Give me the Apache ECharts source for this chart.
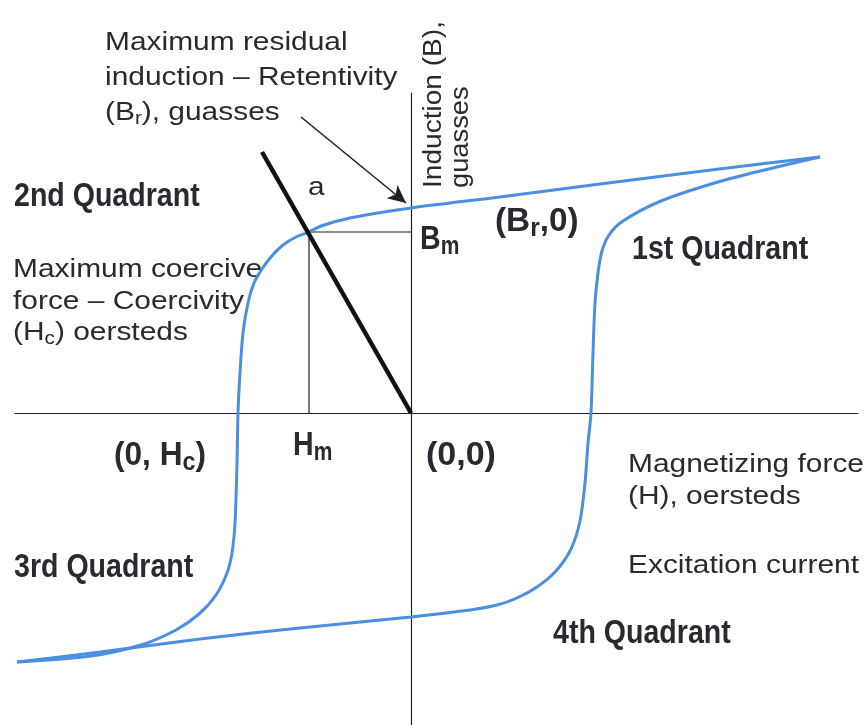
<!DOCTYPE html>
<html>
<head>
<meta charset="utf-8">
<script src="https://cdn.jsdelivr.net/npm/echarts@6/dist/echarts.min.js"></script>
<style>
html,body{margin:0;padding:0;background:#fff;}
#main{width:867px;height:725px;}
</style>
</head>
<body>
<div id="main"></div>
<script>
// H (oersteds, arbitrary units) / B (gauss, arbitrary units)
var upperBranch = [[409,256],[300,243],[189,229],[89,216],[0,205],[-61,195],[-90,187],[-102,181],[-115,176],
    [-128,168],[-140,156],[-149,144],[-157,130],[-163,110],[-168,80],[-171,40],[-173,0],[-174,-50],
    [-176,-110],[-179,-140],[-184,-160],[-195,-182],[-212,-201],[-235,-217],[-270,-232],[-320,-243],[-394,-249]];
var lowerBranch = [[-394,-249],[-311,-239],[-211,-226],[-111,-215],[0,-204],[59,-197],[86,-192],[106,-185],
    [126,-174],[145,-158],[160,-136],[169,-108],[174,-70],[177,-30],[180,0],[182,60],[184,110],[187,140],
    [191,162],[198,178],[212,192],[250,212],[307,231],[362,245],[409,256]];
var loadLine = [[0,0],[-149,261]];
var workPoint = [[-102,0],[-102,181],[0,181]];
var arrowFrom = [-110,296];
var arrowTo = [-5,210];

var xMin = -396, xMax = 447, yMin = -312, yMax = 320;

var ink = '#2b2930';
var blue = '#4a8fe0';

function note(x, y, text, bold, rich, sx){
    return {
        type:'text', x:x, y:y, scaleX: sx || (bold ? 0.84 : 1.15),
        style:{
            text:text, fill:ink, align:'left', verticalAlign:'middle',
            fontFamily:'Liberation Sans', fontSize: bold ? 34 : 26,
            fontWeight: bold ? 'bold' : 'normal', lineHeight: bold ? 40 : 30,
            rich: rich || {}
        }
    };
}
var subR = {sub:{fontFamily:'Liberation Sans', fontSize:18, fill:ink, lineHeight:17, verticalAlign:'bottom'}};
var subB = {sub:{fontFamily:'Liberation Sans', fontSize:25, fontWeight:'bold', fill:ink, lineHeight:24, verticalAlign:'bottom'}};

var texts = [
    note(105, 43, 'Maximum residual'),
    note(105, 78, 'induction – Retentivity'),
    note(105, 113, '(B{sub|r}), guasses', false, subR),
    note(308, 188, 'a'),
    note(13, 270, 'Maximum coercive'),
    note(13, 302, 'force – Coercivity'),
    note(13, 333, '(H{sub|c}) oersteds', false, subR),
    note(628, 465, 'Magnetizing force'),
    note(628, 497, '(H), oersteds'),
    note(628, 566, 'Excitation current'),
    note(14, 197, '2nd Quadrant', true),
    note(632, 250, '1st Quadrant', true),
    note(14, 568, '3rd Quadrant', true),
    note(553, 634, '4th Quadrant', true),
    note(420, 240, 'B{sub|m}', true, subB),
    note(495, 222, '(B{sub|r},0)', true, subB, 0.98),
    note(114, 456, '(0, H{sub|c})', true, subB, 0.93),
    note(293, 446, 'H{sub|m}', true, subB),
    note(426, 456, '(0,0)', true, null, 1.0)
];
var axisName1 = note(434, 188, 'Induction (B),');
axisName1.rotation = Math.PI / 2; axisName1.scaleX = 1.08;
var axisName2 = note(461, 188, 'guasses');
axisName2.rotation = Math.PI / 2; axisName2.scaleX = 1.05;
texts.push(axisName1, axisName2);

var myChart = echarts.init(document.getElementById('main'));
var option = {
    animation:false,
    backgroundColor:'#fff',
    grid:{left:15, right:9, top:93, bottom:0},
    xAxis:{type:'value', min:xMin, max:xMax,
        axisLine:{onZero:true, lineStyle:{color:'#222', width:1.2}},
        axisTick:{show:false}, axisLabel:{show:false}, splitLine:{show:false}},
    yAxis:{type:'value', min:yMin, max:yMax,
        axisLine:{show:true, onZero:true, lineStyle:{color:'#222', width:1.2}},
        axisTick:{show:false}, axisLabel:{show:false}, splitLine:{show:false}},
    series:[
        {type:'line', data:workPoint, showSymbol:false, lineStyle:{color:'#222', width:1.2}},
        {type:'line', data:upperBranch, smooth:0.3, showSymbol:false, lineStyle:{color:blue, width:3}},
        {type:'line', data:lowerBranch, smooth:0.3, showSymbol:false, lineStyle:{color:blue, width:3}},
        {type:'line', data:loadLine, showSymbol:false, lineStyle:{color:'#111', width:4.5}},
        {type:'line', data:[], markLine:{
            silent:true, symbol:['none','arrow'], symbolSize:[13,18], label:{show:false},
            lineStyle:{color:'#222', width:1.6, type:'solid'},
            data:[[{coord:arrowFrom},{coord:arrowTo}]]
        }}
    ],
    graphic:texts
};
myChart.setOption(option);
</script>
</body>
</html>
